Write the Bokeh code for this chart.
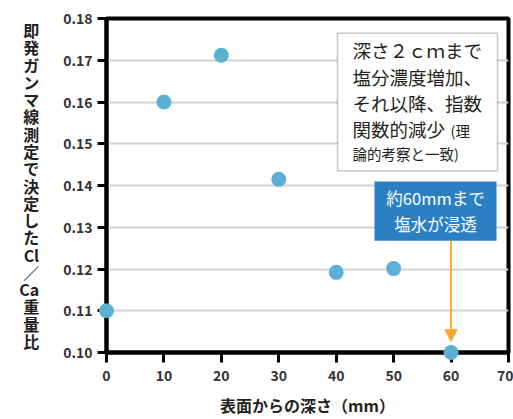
from bokeh.plotting import figure
from bokeh.models import (Range1d, FixedTicker, Label, BoxAnnotation, Arrow,
                          NormalHead, ColumnDataSource, CustomJSTickFormatter)
from bokeh.embed import file_html
from bokeh.resources import INLINE

# data
depth_mm = [0, 10, 20, 30, 40, 50, 60]
cl_ca_ratio = [0.110, 0.160, 0.1712, 0.1415, 0.1192, 0.1201, 0.100]
x_ticks = [0, 10, 20, 30, 40, 50, 60, 70]
y_ticks = [0.10, 0.11, 0.12, 0.13, 0.14, 0.15, 0.16, 0.17, 0.18]
y_label_chars = ["即", "発", "ガ", "ン", "マ", "線", "測", "定", "で", "決", "定",
                 "し", "た", "Cl", "／", "Ca", "重", "量", "比"]
x_label_text = "表面からの深さ（mm）"

JP = "Noto Sans CJK JP"
DARK = "#231f20"
ORANGE = "#f7a935"
BLUE_PT = "#5bb0d3"
BLUE_BOX = "#2b80c3"

# frame geometry (pixels)
FL, FR, FT, FB = 106, 508, 18, 356


def px_x(px):
    return (px - FL) / (FR - FL) * 70.0


def px_y(py):
    return 0.18 - (py - FT) / (FB - FT) * 0.08


p = figure(width=513, height=419, output_backend="svg", toolbar_location=None,
           x_range=Range1d(0, 70), y_range=Range1d(0.10, 0.18),
           min_border_left=FL, min_border_right=513 - FR, min_border_top=FT,
           min_border_bottom=419 - FB)
p.background_fill_color = "white"
p.border_fill_color = "white"
p.outline_line_color = "black"
p.outline_line_width = 4
p.outline_line_alpha = 1.0

p.xgrid.visible = False
p.ygrid.grid_line_color = "#d2d2d2"
p.ygrid.grid_line_width = 2

xa = p.xaxis[0]
ya = p.yaxis[0]
for ax in (xa, ya):
    ax.axis_line_color = "black"
    ax.axis_line_width = 4
    ax.major_tick_line_color = "black"
    ax.major_tick_line_width = 3
    ax.major_tick_in = 0
    ax.minor_tick_line_color = None
    ax.major_label_text_font = JP
    ax.major_label_text_font_style = "bold"
    ax.major_label_text_font_size = "14px"
    ax.major_label_text_color = "#333333"
    ax.axis_label_text_font = JP
    ax.axis_label_text_font_style = "bold"
    ax.axis_label_text_font_size = "16px"
    ax.axis_label_text_color = DARK

xa.ticker = FixedTicker(ticks=x_ticks)
ya.ticker = FixedTicker(ticks=y_ticks)
xa.major_tick_out = 10
xa.major_label_standoff = 7
ya.major_tick_out = 9
ya.major_label_standoff = 5
ya.formatter = CustomJSTickFormatter(code="return tick.toFixed(2);")

xa.axis_label = x_label_text
xa.axis_label_standoff = 9

# y label in vertical writing: one character (or pair) per line
ya.axis_label = "\n".join(y_label_chars)
ya.axis_label_orientation = "horizontal"
ya.axis_label_text_line_height = 0.72
ya.axis_label_text_align = "center"
ya.axis_label_standoff = 21

src = ColumnDataSource(dict(x=depth_mm, y=cl_ca_ratio))
p.scatter("x", "y", source=src, size=15, fill_color=BLUE_PT, line_color=None,
          level="overlay")

# annotation box 1
p.add_layout(BoxAnnotation(left=px_x(337), right=px_x(497), top=px_y(33),
                           bottom=px_y(172), fill_color="white", fill_alpha=1.0,
                           line_color="#444444", line_width=1.5, level="annotation"))
main_lines = [("深さ２ｃｍまで", 50), ("塩分濃度増加、", 77),
              ("それ以降、指数", 104), ("関数的減少", 130)]
for t, yy in main_lines:
    p.add_layout(Label(x=px_x(352), y=px_y(yy), text=t, text_font=JP,
                       text_font_size="18.5px", text_baseline="middle", text_color=DARK))
p.add_layout(Label(x=px_x(450), y=px_y(131), text="(理", text_font=JP,
                   text_font_size="14.5px", text_baseline="middle", text_color=DARK))
p.add_layout(Label(x=px_x(352), y=px_y(155), text="論的考察と一致)", text_font=JP,
                   text_font_size="14.5px", text_baseline="middle", text_color=DARK))

# annotation box 2
p.add_layout(BoxAnnotation(left=px_x(374), right=px_x(496), top=px_y(183),
                           bottom=px_y(243), fill_color=BLUE_BOX, fill_alpha=1.0,
                           line_color=None, level="annotation"))
p.add_layout(Label(x=px_x(435), y=px_y(200), text="約60mmまで", text_font=JP,
                   text_font_size="16.5px", text_align="center", text_baseline="middle",
                   text_color="white"))
p.add_layout(Label(x=px_x(435), y=px_y(226), text="塩水が浸透", text_font=JP,
                   text_font_size="16.5px", text_align="center", text_baseline="middle",
                   text_color="white"))

p.add_layout(Arrow(end=NormalHead(size=12, fill_color=ORANGE, line_color=ORANGE),
                   x_start=60, y_start=px_y(243), x_end=60, y_end=px_y(345),
                   line_color=ORANGE, line_width=2))

open("out.html", "w").write(file_html(p, INLINE))
